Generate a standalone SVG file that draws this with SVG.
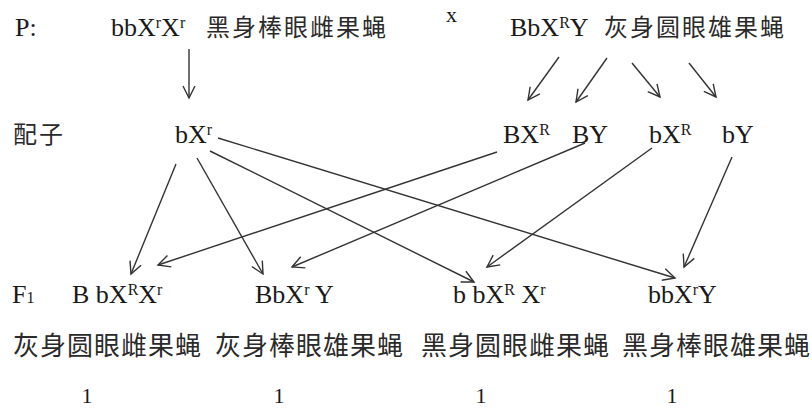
<svg xmlns="http://www.w3.org/2000/svg" width="812" height="409" viewBox="0 0 812 409">
<defs>
<marker id="arr" viewBox="-14 -7 16 14" refX="0" refY="0" markerWidth="16" markerHeight="14" markerUnits="userSpaceOnUse" orient="auto">
<path d="M-12,-6 L0,0 L-12,6" fill="none" stroke="#333" stroke-width="1.4"/>
</marker>
<style>
.t{font-family:"Liberation Serif","Times New Roman",serif;font-size:26px;fill:#1a1a1a}
.s{font-size:16px}
.c{font-family:"Noto Sans CJK SC","Noto Sans",sans-serif;font-size:24px;fill:#2a2a2a;letter-spacing:2px}
.cb{font-family:"Noto Sans CJK SC","Noto Sans",sans-serif;font-size:26px;fill:#2a2a2a;letter-spacing:1px}
.n{font-family:"Liberation Serif","Times New Roman",serif;font-size:22px;fill:#1a1a1a}
.ln{stroke:#333;stroke-width:1.4;fill:none;marker-end:url(#arr)}
</style>
</defs>
<g id="parents">
<text class="t" x="15" y="36">P:</text>
<text class="t" x="111" y="36">bbX<tspan class="s" dy="-8">r</tspan><tspan dy="8">X</tspan><tspan class="s" dy="-8">r</tspan></text>
<text class="c" x="206" y="36">黑身棒眼雌果蝇</text>
<text class="t" x="446" y="22" style="font-size:22px">x</text>
<text class="t" x="510" y="36">BbX<tspan class="s" dy="-8">R</tspan><tspan dy="8">Y</tspan></text>
<text class="c" x="604" y="36">灰身圆眼雄果蝇</text>
</g>
<g id="gametes">
<text class="c" x="13" y="143">配子</text>
<text class="t" x="175" y="143">bX<tspan class="s" dy="-8">r</tspan></text>
<text class="t" x="503" y="143">BX<tspan class="s" dy="-8">R</tspan></text>
<text class="t" x="572" y="143">BY</text>
<text class="t" x="649" y="143">bX<tspan class="s" dy="-8">R</tspan></text>
<text class="t" x="722" y="143">bY</text>
</g>
<g id="f1">
<text class="t" x="12" y="303">F<tspan class="s">1</tspan></text>
<text class="t" x="72" y="303">B bX<tspan class="s" dy="-8">R</tspan><tspan dy="8">X</tspan><tspan class="s" dy="-8">r</tspan></text>
<text class="t" x="255" y="303">BbX<tspan class="s" dy="-8">r</tspan><tspan dy="8"> Y</tspan></text>
<text class="t" x="453" y="303">b bX<tspan class="s" dy="-8">R</tspan><tspan dy="8"> X</tspan><tspan class="s" dy="-8">r</tspan></text>
<text class="t" x="648" y="303">bbX<tspan class="s" dy="-8">r</tspan><tspan dy="8">Y</tspan></text>
</g>
<g id="phenotypes">
<text class="cb" x="13" y="355">灰身圆眼雌果蝇</text>
<text class="cb" x="215" y="355">灰身棒眼雄果蝇</text>
<text class="cb" x="421" y="355">黑身圆眼雌果蝇</text>
<text class="cb" x="622" y="355">黑身棒眼雄果蝇</text>
</g>
<g id="ratios">
<text class="n" x="87" y="403" text-anchor="middle">1</text>
<text class="n" x="279" y="403" text-anchor="middle">1</text>
<text class="n" x="481" y="403" text-anchor="middle">1</text>
<text class="n" x="672" y="403" text-anchor="middle">1</text>
</g>
<g id="connectors">
<line class="ln" x1="189" y1="49" x2="189" y2="98"/>
<line class="ln" x1="559" y1="57" x2="528" y2="100"/>
<line class="ln" x1="607" y1="58" x2="576" y2="102"/>
<line class="ln" x1="632" y1="63" x2="660" y2="97"/>
<line class="ln" x1="689" y1="63" x2="716" y2="97"/>
<line class="ln" x1="176" y1="164" x2="131" y2="274"/>
<line class="ln" x1="197" y1="158" x2="263" y2="274"/>
<line class="ln" x1="210" y1="151" x2="474" y2="282"/>
<line class="ln" x1="218" y1="138" x2="675" y2="278"/>
<line class="ln" x1="497" y1="152" x2="158" y2="265"/>
<line class="ln" x1="585" y1="143" x2="292" y2="267"/>
<line class="ln" x1="652" y1="148" x2="487" y2="267"/>
<line class="ln" x1="732" y1="157" x2="684" y2="267"/>
</g>
</svg>
